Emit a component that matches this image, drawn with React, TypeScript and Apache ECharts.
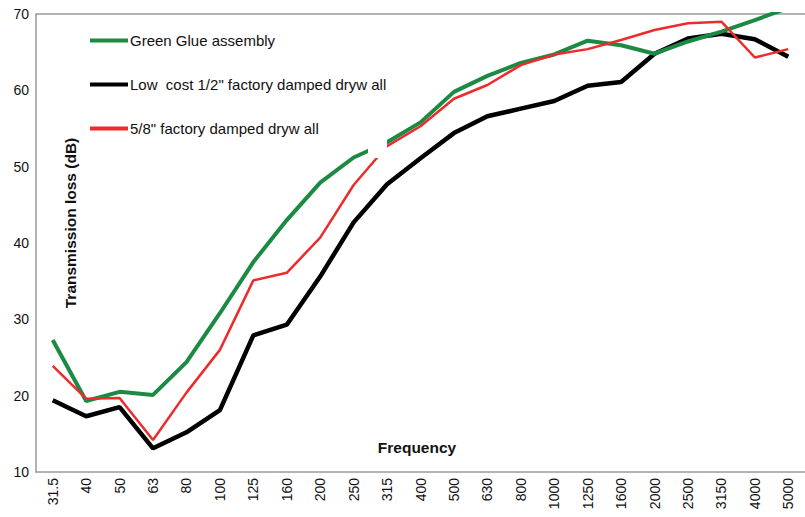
import React, { useEffect, useRef } from "react";
import * as echarts from "echarts";

const categories = ["31.5", "40", "50", "63", "80", "100", "125", "160", "200", "250", "315", "400", "500", "630", "800", "1000", "1250", "1600", "2000", "2500", "3150", "4000", "5000"];
const greenGlue = [27.3, 19.3, 20.5, 20.1, 24.4, 30.8, 37.5, 43.0, 47.9, 51.2, 53.2, 55.8, 59.8, 61.9, 63.6, 64.7, 66.5, 65.9, 64.8, 66.4, 67.7, 69.2, 70.8];
const lowCost = [19.4, 17.3, 18.5, 13.1, 15.2, 18.1, 27.9, 29.3, 35.6, 42.7, 47.7, 51.1, 54.4, 56.6, 57.6, 58.6, 60.6, 61.1, 64.8, 66.8, 67.4, 66.7, 64.4];
const fiveEighths = [23.9, 19.6, 19.7, 14.2, 20.4, 26.0, 35.1, 36.1, 40.7, 47.6, 52.7, 55.3, 58.9, 60.7, 63.3, 64.7, 65.4, 66.6, 67.9, 68.8, 69.0, 64.3, 65.4];
const seriesNames = ["Green Glue assembly", "Low  cost 1/2\" factory damped dryw all", "5/8\" factory damped dryw all"];
const seriesColors = ["#1b8a42", "#000000", "#ee2b2b"];

const FONT = "Arial, 'Liberation Sans', Helvetica, sans-serif";

export default function App() {
  const ref = useRef<HTMLDivElement>(null);
  useEffect(() => {
    if (!ref.current) return;
    const chart = echarts.init(ref.current, undefined, { renderer: "svg" });
    chart.setOption({
      animation: false,
      backgroundColor: "#ffffff",
      textStyle: { fontFamily: FONT },
      grid: { left: 36, top: 14, width: 779, height: 458, show: false },
      legend: {
        orient: "vertical",
        left: 90,
        top: 33,
        padding: 0,
        itemWidth: 38,
        itemHeight: 4,
        itemGap: 29,
        textStyle: { fontSize: 15, color: "#111", fontFamily: FONT, padding: [0, 0, 0, -3] },
        data: [
          { name: seriesNames[0], icon: "rect", itemStyle: { color: seriesColors[0] } },
          { name: seriesNames[1], icon: "rect", itemStyle: { color: seriesColors[1] } },
          { name: seriesNames[2], icon: "rect", itemStyle: { color: seriesColors[2] } },
        ],
      },
      xAxis: {
        type: "category",
        data: categories,
        boundaryGap: true,
        axisLine: { show: true, lineStyle: { color: "#9a9a9a", width: 1.5 } },
        axisTick: { show: false },
        axisLabel: { rotate: 90, fontSize: 14, color: "#111", margin: 6, interval: 0, fontFamily: FONT },
        splitLine: { show: false },
      },
      yAxis: {
        type: "value",
        min: 10,
        max: 70,
        interval: 10,
        axisLine: { show: true, lineStyle: { color: "#9a9a9a", width: 1.5 } },
        axisTick: { show: false },
        axisLabel: { fontSize: 14, color: "#111", margin: 7, fontFamily: FONT },
        splitLine: { show: false },
      },
      graphic: [
        { type: "line", shape: { x1: 36, y1: 14, x2: 805, y2: 14 }, style: { stroke: "#9a9a9a", lineWidth: 1.5 }, z: 1 },
        { type: "rect", shape: { x: 368, y: 132, width: 19, height: 26 }, style: { fill: "#ffffff" }, z: 100 },
        {
          type: "text",
          x: 70,
          y: 223,
          rotation: Math.PI / 2,
          style: { text: "Transmission loss (dB)", fontSize: 15.5, fontWeight: "bold", fill: "#111", align: "center", verticalAlign: "middle", fontFamily: FONT },
          z: 100,
        },
        {
          type: "text",
          x: 417,
          y: 447,
          style: { text: "Frequency", fontSize: 15.5, fontWeight: "bold", fill: "#111", align: "center", verticalAlign: "middle", fontFamily: FONT },
          z: 100,
        },
      ],
      series: [
        { name: seriesNames[0], type: "line", data: greenGlue, symbol: "none", clip: true, lineStyle: { color: seriesColors[0], width: 4 }, itemStyle: { color: seriesColors[0] }, z: 3 },
        { name: seriesNames[1], type: "line", data: lowCost, symbol: "none", clip: true, lineStyle: { color: seriesColors[1], width: 4.5 }, itemStyle: { color: seriesColors[1] }, z: 2 },
        { name: seriesNames[2], type: "line", data: fiveEighths, symbol: "none", clip: true, lineStyle: { color: seriesColors[2], width: 2.5 }, itemStyle: { color: seriesColors[2] }, z: 4 },
      ],
    });
    return () => chart.dispose();
  }, []);
  return <div ref={ref} style={{ width: 805, height: 517, position: "absolute", left: 0, top: 0 }} />;
}
